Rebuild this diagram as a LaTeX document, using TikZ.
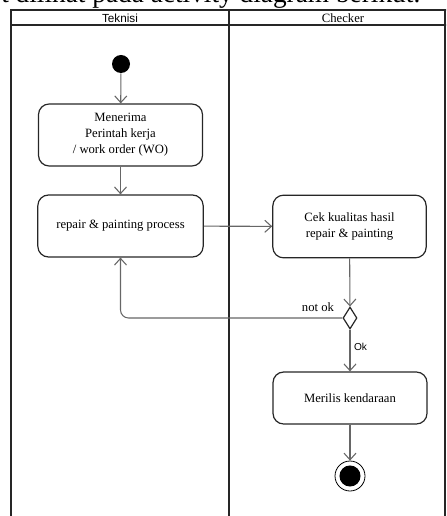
\documentclass[tikz,border=0pt]{standalone}
\usepackage{fontspec}
\setmainfont{Liberation Serif}
\setsansfont{Liberation Sans}
\usetikzlibrary{arrows.meta,shapes.geometric}

\begin{document}
\begin{tikzpicture}[x=0.75pt,y=-0.75pt,
  act/.style={draw=black!85,line width=0.9pt,rounded corners=8pt,align=center,
    font=\fontsize{9.5}{12}\selectfont,inner sep=0pt},
  flow/.style={draw=black!60,line width=0.8pt,-{Straight Barb[length=5pt,width=9pt]}},
  lane/.style={line width=1.5pt,black!85}]
\useasboundingbox (0,0) rectangle (446,516);
\clip (0,0) rectangle (446,516);
\node[anchor=base west,font=\fontsize{20.5}{24}\selectfont,inner sep=0pt] (intro) at (1,3) {t dilihat pada activity diagram berikut.};
% swimlanes
\draw[lane] (11,520) -- (11,10) -- (450,10);
\draw[lane] (11,25) -- (450,25);
\draw[lane] (229,10) -- (229,520);
\draw[lane] (445,10) -- (445,520);
\node[font=\sffamily\fontsize{8.8}{10}\selectfont] (teknisi) at (120,18) {Teknisi};
\node[font=\fontsize{9.5}{10}\selectfont] (checker) at (343,18) {Checker};
% nodes
\node[circle,fill=black,minimum size=13.5pt,inner sep=0pt] (start) at (121,64) {};
\node[act,minimum width=123pt,minimum height=46.5pt] (terima) at (120.5,135) {Menerima\\Perintah kerja\\/ work order (WO)};
\node[act,minimum width=124pt,minimum height=46.5pt] (repair) at (120.5,226) {repair \& painting process};
\node[act,minimum width=115pt,minimum height=47pt] (cek) at (349.5,226.5) {Cek kualitas hasil\\repair \& painting};
\node[diamond,draw=black!85,line width=0.9pt,fill=white,minimum width=10.5pt,minimum height=16.5pt,inner sep=0pt] (dec) at (350,318) {};
\node[act,minimum width=115.5pt,minimum height=39pt] (rilis) at (350,398) {Merilis kendaraan};
\node[circle,draw=black,line width=0.6pt,minimum size=22.5pt,inner sep=0pt] (stop) at (350,476) {};
\fill[black] (stop.center) circle (7.9pt);
% connectors
\draw[flow] (start) -- (terima);
\draw[flow] (terima) -- (repair);
\draw[flow] (repair) -- (cek);
\draw[flow] (cek) -- (dec);
\draw[flow,rounded corners=6pt] (dec.west) -| (repair.south);
\draw[flow] (dec) -- (rilis);
\draw[flow] (rilis) -- (stop);
\node[font=\fontsize{9.5}{10}\selectfont] (notok) at (318,307) {not ok};
\node[font=\sffamily\fontsize{7.6}{9}\selectfont] (ok) at (360.5,347) {Ok};
\end{tikzpicture}
\end{document}
